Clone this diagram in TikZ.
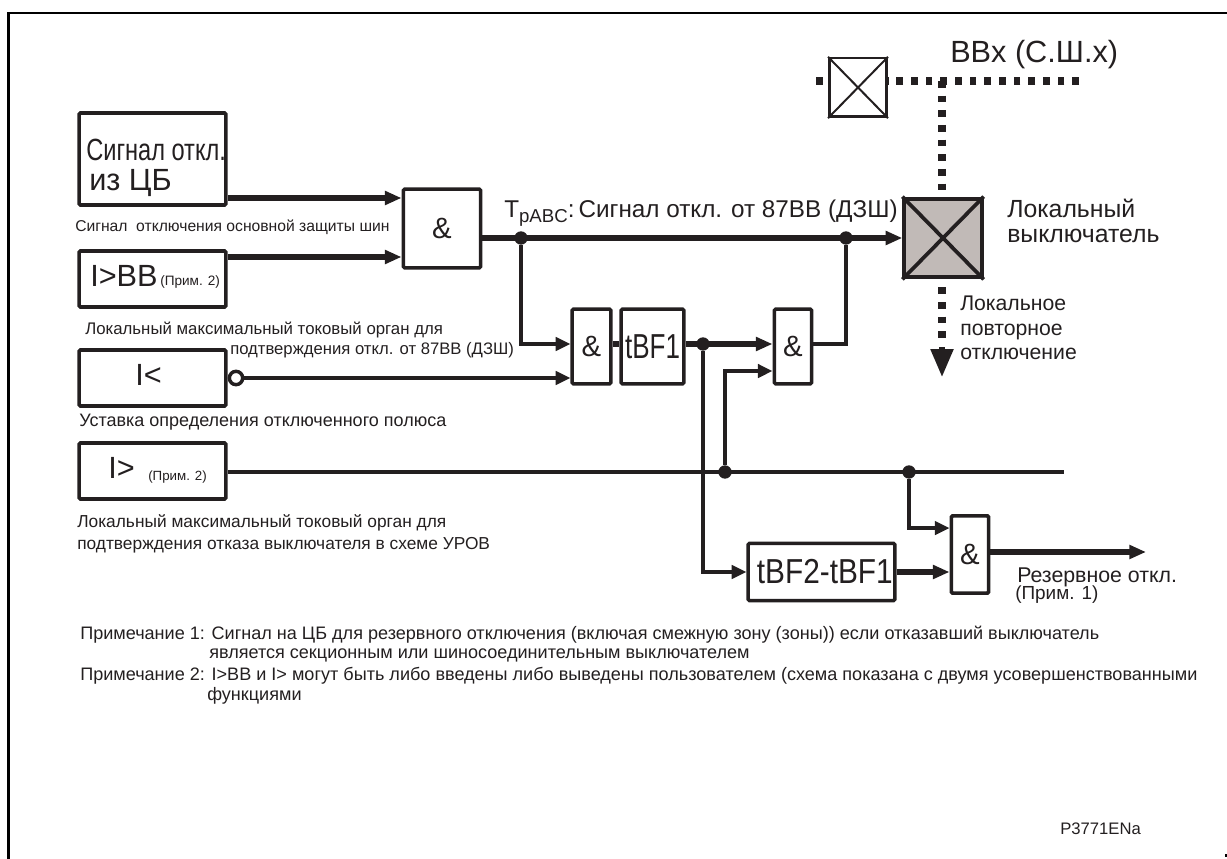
\documentclass[tikz,border=0pt]{standalone}
\usepackage{graphicx}
\usepackage{fontspec}
\setmainfont{Liberation Sans}
\usetikzlibrary{arrows.meta,positioning,calc}
\definecolor{inkgray}{RGB}{35,31,32}
\definecolor{breakergray}{RGB}{193,186,183}
\tikzset{
  lbox/.style={rectangle,rounded corners=1pt,draw=inkgray,line width=2.7pt,fill=white,text=inkgray,align=center,inner sep=0pt,font=\fontsize{22}{24}\selectfont},
  txt/.style={anchor=west,text=inkgray,inner sep=0pt,align=left,font=\fontsize{13.55}{15}\selectfont},
  fl/.style={draw=inkgray,line width=2.5pt,-{Stealth[length=11pt,width=10pt,inset=0pt]}},
  thk/.style={draw=inkgray,line width=3.8pt,-{Stealth[length=12.5pt,width=10pt,inset=0pt]}},
  wire/.style={draw=inkgray,line width=2.5pt},
  dot/.style={circle,fill=inkgray,inner sep=0pt,minimum size=10pt},
  dots/.style={draw=inkgray,line width=5.5pt,dash pattern=on 5pt off 6pt},
}
\begin{document}
\begin{tikzpicture}[x=.75pt,y=-.75pt]
  \useasboundingbox (0,0) rectangle (1227,859);
  \draw[black,line width=2.2pt] (8.5,859) -- (8.5,13) -- (1227,13);
  \fill[black] (1225,854) rectangle (1227,857);
  % input blocks
  \node[lbox,minimum width=110pt,minimum height=69pt] (cb) at (152.5,159) {};
  \node[lbox,minimum width=110pt,minimum height=42pt] (ibb) at (152.5,279) {};
  \node[lbox,minimum width=110pt,minimum height=42pt] (iless) at (152.5,378) {};
  \node[lbox,minimum width=110pt,minimum height=42pt] (imore) at (152.5,471) {};
  \node[txt,font=\fontsize{23}{25}\selectfont] (cbt1) at (86,150) {\scalebox{.77}[1]{Сигнал откл.}};
  \node[txt,font=\fontsize{23}{25}\selectfont] (cbt2) at (89,183) {из ЦБ};
  \node[txt,font=\fontsize{23}{25}\selectfont] (ibbt) at (90,276) {I>BB};
  \node[txt,font=\fontsize{10.2}{12}\selectfont] (ibbn) at (160,282) {(Прим. 2)};
  \node[txt,font=\fontsize{23}{25}\selectfont] (ilesst) at (135,375) {I<};
  \node[txt,font=\fontsize{23}{25}\selectfont] (imoret) at (108,468) {I>};
  \node[txt,font=\fontsize{10}{12}\selectfont] (imoren) at (148,477) {(Прим. 2)};
  % logic blocks
  \node[lbox,minimum width=58pt,minimum height=59pt] (and1) at (442,228.5) {\&};
  \node[lbox,minimum width=29pt,minimum height=56pt] (and2) at (591.5,346.5) {\&};
  \node[lbox,minimum width=47pt,minimum height=56pt] (tbf1) at (652.5,346.5) {\fontsize{26}{28}\selectfont\scalebox{.75}[1]{tBF1}};
  \node[lbox,minimum width=28pt,minimum height=56pt] (and3) at (793,346.5) {\&};
  \node[lbox,minimum width=110pt,minimum height=43pt] (tbf2) at (821.5,572) {\fontsize{26}{28}\selectfont\hspace*{5pt}\scalebox{.86}[1]{tBF2-tBF1}};
  \node[lbox,minimum width=28pt,minimum height=58pt] (and4) at (970,554.5) {\&};
  % breakers
  \node[rectangle,draw=inkgray,line width=3pt,fill=breakergray,minimum width=58pt,minimum height=59pt,inner sep=0pt] (lcb) at (943,238) {};
  \draw[inkgray,line width=2.8pt] (lcb.north west) -- (lcb.south east) (lcb.north east) -- (lcb.south west);
  \node[rectangle,draw=inkgray,line width=2pt,minimum width=43pt,minimum height=44pt,inner sep=0pt] (bbcb) at (858,87.5) {};
  \draw[inkgray,line width=1.5pt] (bbcb.north west) -- (bbcb.south east) (bbcb.north east) -- (bbcb.south west);
  % busbar and local retrip
  \coordinate (busl) at (816,81);
  \coordinate (busr) at (1079,81);
  \coordinate (busj) at (942,81);
  \coordinate (retrip) at (942,377);
  \draw[dots] (busl) -- (bbcb.west |- busl);
  \draw[dots] (busr) -- (bbcb.east |- busr);
  \draw[dots,shorten >=5pt] (busj) -- (lcb.north -| busj);
  \draw[dots] ($(lcb.south -| busj)+(0,8)$) -- ($(retrip)+(0,-36)$);
  \draw[draw=inkgray,line width=4pt,-{Stealth[length=21pt,width=16.5pt,inset=0pt]}] ($(retrip)+(0,-30)$) -- (retrip);
  % wires
  \coordinate (cbout) at (cb.east |- 0,198);
  \coordinate (ibbout) at (ibb.east |- 0,257);
  \draw[thk] (cbout) -- (and1.west |- cbout);
  \draw[thk] (ibbout) -- (and1.west |- ibbout);
  \coordinate (tr) at (and1.east |- 0,238);
  \node[dot] (j1) at (521,238) {};
  \node[dot] (j2) at (846,238) {};
  \draw[thk] (tr) -- (lcb.west |- tr);
  \draw[fl] (j1) |- (and2.west |- 0,344);
  \node[circle,draw=inkgray,line width=2.6pt,fill=white,inner sep=0pt,minimum size=10pt,anchor=west] (neg) at (iless.east) {};
  \draw[fl] (neg.east) -- (and2.west |- neg.east);
  \draw[wire,line width=3.8pt] (and2.east |- 0,344) -- (tbf1.west |- 0,344);
  \node[dot] (j3) at (703,344) {};
  \draw[thk] (tbf1.east |- j3) -- (and3.west |- j3);
  \draw[wire] (and3.east |- j3) -| (j2);
  \draw[wire] (imore.east |- 0,472) -- (1064,472) coordinate (imoreend);
  \node[dot] (j4) at (725,472) {};
  \node[dot] (j5) at (909,472) {};
  \draw[fl] (j4) |- (and3.west |- 0,371);
  \draw[fl] (j3) |- (tbf2.west);
  \draw[fl] (j5) |- (and4.west |- 0,528);
  \draw[thk] (tbf2.east) -- (and4.west |- tbf2.east);
  \coordinate (bkup) at (1146,552);
  \draw[thk] (and4.east |- bkup) -- (bkup);
  % labels
  \node[txt,font=\fontsize{11.75}{13}\selectfont] (lbl1) at (75,227) {Сигнал\ \ отключения основной защиты шин};
  \node[txt,font=\fontsize{12.6}{14}\selectfont] (lbl2) at (85,330) {Локальный максимальный токовый орган для};
  \node[txt,font=\fontsize{12.5}{14}\selectfont] (lbl3) at (230,350) {подтверждения откл. от 87BB (ДЗШ)};
  \node[txt,font=\fontsize{13.5}{15}\selectfont] (lbl4) at (79,422) {Уставка определения отключенного полюса};
  \node[txt,font=\fontsize{13}{16.5}\selectfont] (lbl5) at (77,534) {Локальный максимальный токовый орган для\\подтверждения отказа выключателя в схеме УРОВ};
  \node[txt,font=\fontsize{18.2}{20}\selectfont] (tpabc) at (504,213) {T\raisebox{-4pt}{\fontsize{14}{16}\selectfont pABC}:\hspace{3pt}Сигнал откл. от 87BB (ДЗШ)};
  \node[txt,font=\fontsize{23}{25}\selectfont] (bbx) at (950,55) {BBx (С.Ш.х)};
  \node[txt,font=\fontsize{18.6}{18.75}\selectfont] (lcbt) at (1007,221) {Локальный\\выключатель};
  \node[txt,font=\fontsize{15.9}{18.4}\selectfont] (rtt) at (960,328) {Локальное\\повторное\\отключение};
  \node[txt,font=\fontsize{16}{18}\selectfont] (bkt) at (1017,577) {Резервное откл.};
  \node[txt,font=\fontsize{14.2}{16}\selectfont] (bkn) at (1015,595) {(Прим. 1)};
  \node[txt] (n1) at (80,635) {Примечание 1: Сигнал на ЦБ для резервного отключения (включая смежную зону (зоны)) если отказавший выключатель};
  \node[txt] (n2) at (209,655) {является секционным или шиносоединительным выключателем};
  \node[txt] (n3) at (80,676) {Примечание 2: I>BB и I> могут быть либо введены либо выведены пользователем (схема показана с двумя усовершенствованными};
  \node[txt] (n4) at (207,696) {функциями};
  \node[txt,font=\fontsize{12.5}{14}\selectfont] (code) at (1060,829) {P3771ENa};
\end{tikzpicture}
\end{document}
